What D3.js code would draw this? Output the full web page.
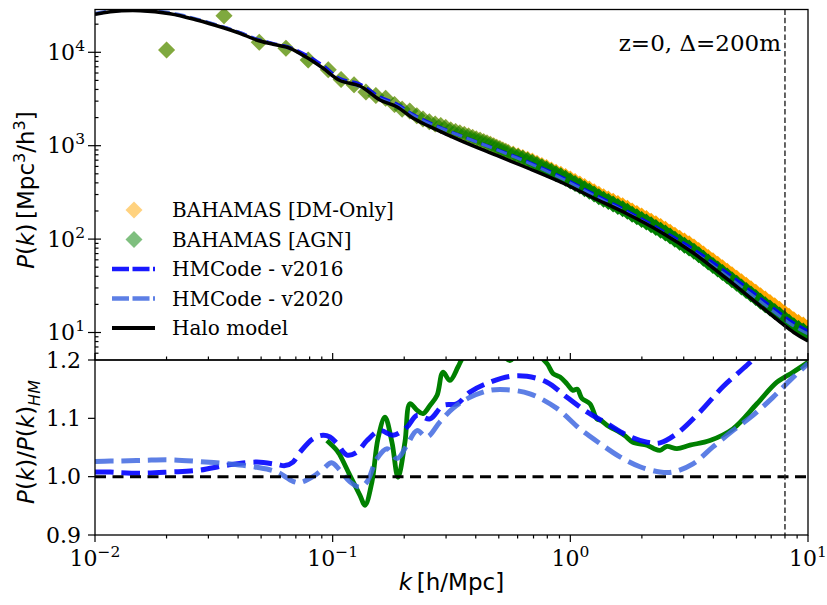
<!DOCTYPE html>
<html>
<head>
<meta charset="utf-8">
<script src="https://cdn.jsdelivr.net/npm/d3@7/dist/d3.min.js"></script>
<style>
  html, body { margin: 0; padding: 0; background: #fff; }
  svg { display: block; }
</style>
</head>
<body>
<svg id="chart" width="827" height="605"></svg>
<script>
// ---------------- data ----------------
// halo-model power spectrum, z = 0
const haloK = [0.0100, 0.0116, 0.0155, 0.0207, 0.0268, 0.0347, 0.0407, 0.0479, 0.0562, 0.0661, 0.0776, 0.0912, 0.1073, 0.1303, 0.1581, 0.1860, 0.2183, 0.2566, 0.3533, 0.4904, 0.6761, 0.9287, 1.239, 1.722, 2.382, 3.296, 4.566, 6.300, 8.720, 10.0];
const haloP = [25500, 27200, 27900, 25900, 22200, 18300, 15960, 13550, 12180, 11040, 8840, 6740, 4990, 4357, 3085, 2616, 1965, 1598, 1104, 785.5, 563, 398.7, 278.9, 188.0, 120.6, 71.0, 37.4, 19.22, 10.0, 8.11];
// HMCode predictions on the same k grid
const hm2016P = [25700, 27420, 28070, 26110, 22440, 18650, 16310, 13890, 12450, 11290, 9330, 7220, 5250, 4570, 3330, 2800, 2160, 1756, 1253, 915.1, 659.3, 455.3, 308.2, 201.3, 127.6, 78.1, 43.8, 23.35, 12.65, 10.42];
const hm2020P = [26160, 27930, 28680, 26650, 22780, 18700, 16260, 13770, 12300, 10970, 8790, 6830, 5045, 4279, 3196, 2700, 2103, 1713, 1245, 901.8, 642.9, 440.2, 297.6, 193.3, 121.6, 72.6, 40.1, 21.57, 11.70, 9.68];

// BAHAMAS measured spectra
const simK = [0.0200, 0.0349, 0.0491, 0.0636, 0.0789, 0.0958, 0.1085, 0.123, 0.138, 0.152, 0.167, 0.182, 0.196, 0.211, 0.226, 0.240, 0.255, 0.270, 0.285, 0.299, 0.314, 0.329, 0.343, 0.358, 0.373, 0.388, 0.402, 0.417, 0.432, 0.446, 0.461, 0.476, 0.490, 0.505, 0.520, 0.535, 0.549,
  0.575, 0.603, 0.631, 0.661, 0.692, 0.724, 0.759, 0.794, 0.832, 0.871, 0.912, 0.955, 1.000, 1.047, 1.096, 1.148, 1.202, 1.259, 1.318, 1.380, 1.445, 1.514, 1.585, 1.660, 1.738, 1.820, 1.905, 1.995, 2.089, 2.188, 2.291, 2.399, 2.512, 2.630, 2.754, 2.884, 3.020, 3.162, 3.311, 3.467, 3.631, 3.802, 3.981, 4.169, 4.365, 4.571, 4.786, 5.012, 5.248, 5.495, 5.754, 6.026, 6.310, 6.607, 6.918, 7.244, 7.586, 7.943, 8.318, 8.710, 9.120, 9.550, 10.00];
const dmoP = [10590, 24640, 12790, 11040, 8280, 6500, 5120, 4485, 3762, 3439, 3214, 2767, 2466, 2351, 2097, 1931, 1808, 1711, 1650, 1574, 1480, 1421, 1372, 1323, 1277, 1232, 1190, 1152, 1112, 1077, 1041, 1004, 970, 938, 907, 878.5, 853,
  815, 782, 749, 717, 685.5, 649.5, 615, 583.4, 550.5, 521.2, 495.1, 467.1, 439.1, 413.0, 388.6, 366.0, 344.8, 321.8, 302.1, 284.9, 269.1, 254.2, 240.4, 226.9, 213.8, 199.8, 187.6, 176.5, 165.9, 155.5, 145.8, 136.8, 127.7, 118.7, 110.2, 102.4, 95.5, 88.9, 82.5, 75.6, 69.4, 63.7, 58.5, 53.7, 49.4, 45.4, 41.5, 38.0, 34.9, 32.1, 29.4, 27.0, 24.8, 22.8, 20.96, 19.31, 17.73, 16.27, 14.91, 13.66, 12.80, 12.00, 11.24];
const agnP = [10590, 24640, 12790, 11040, 8280, 6500, 5120, 4485, 3762, 3439, 3212, 2765, 2463, 2348, 2094, 1928, 1805, 1708, 1647, 1570, 1475, 1416, 1366, 1316, 1270, 1224, 1182, 1143, 1102, 1066, 1030, 992, 957, 925, 894, 865, 839,
  801, 768, 733, 700, 667, 631, 596, 564, 531, 502, 475.6, 447.3, 419.3, 393.4, 369.2, 346.7, 326.1, 303.5, 284.2, 267.4, 252.0, 237.5, 223.8, 210.8, 198.2, 184.8, 173.1, 162.3, 152.1, 142.4, 133.3, 124.7, 116.2, 107.8, 99.8, 92.6, 86.1, 80.1, 74.2, 67.9, 62.2, 56.9, 52.1, 47.8, 43.8, 40.2, 36.7, 33.6, 30.7, 28.2, 25.8, 23.65, 21.67, 19.88, 18.26, 16.80, 15.40, 14.11, 12.91, 11.82, 11.06, 10.36, 9.70];
// spacing of the simulation's linear k bins (h/Mpc)
const simBinWidth = 0.0147;

// ratios to the halo model
const agnRatioK = [0.0946, 0.1042, 0.1073, 0.1183, 0.1303, 0.1368, 0.1463, 0.1551, 0.1660, 0.1776, 0.1883, 0.2014, 0.2114, 0.2263, 0.2399, 0.2566, 0.2747, 0.2911, 0.3114, 0.3367, 0.3533, 0.380, 0.420, 0.460, 0.500, 0.530, 0.557, 0.600, 0.690, 0.7975, 0.845, 0.904, 0.968, 1.025, 1.070, 1.119, 1.209, 1.294, 1.350, 1.426, 1.617, 1.700, 1.834, 2.101, 2.250, 2.382, 2.549, 2.809, 3.186, 3.867, 4.833, 6.095, 7.399, 8.641, 10.0];
const agnRatio = [1.062, 1.045, 1.037, 1.002, 0.968, 0.951, 0.991, 1.065, 1.102, 1.059, 0.999, 1.059, 1.125, 1.114, 1.108, 1.122, 1.139, 1.179, 1.165, 1.188, 1.205, 1.220, 1.230, 1.230, 1.215, 1.205, 1.199, 1.210, 1.215, 1.194, 1.177, 1.171, 1.159, 1.148, 1.150, 1.134, 1.125, 1.099, 1.096, 1.088, 1.076, 1.070, 1.059, 1.054, 1.048, 1.045, 1.052, 1.048, 1.054, 1.062, 1.082, 1.125, 1.162, 1.179, 1.196];
const ratio2016K = [0.0100, 0.0116, 0.0127, 0.0159, 0.0207, 0.0274, 0.0363, 0.0480, 0.0583, 0.0630, 0.0681, 0.0729, 0.0826, 0.0910, 0.0974, 0.1042, 0.1148, 0.1265, 0.1394, 0.1581, 0.1794, 0.2054, 0.2263, 0.2566, 0.2911, 0.3334, 0.3781, 0.4588, 0.5570, 0.6567, 0.7975, 0.9676, 1.1745, 1.426, 1.730, 2.101, 2.382, 2.809, 3.510, 4.385, 5.534, 6.400, 10.0];
const ratio2016 = [1.008, 1.008, 1.007, 1.006, 1.008, 1.011, 1.020, 1.025, 1.021, 1.019, 1.025, 1.042, 1.065, 1.071, 1.068, 1.057, 1.037, 1.042, 1.062, 1.079, 1.071, 1.085, 1.105, 1.099, 1.122, 1.125, 1.145, 1.162, 1.172, 1.172, 1.162, 1.136, 1.111, 1.091, 1.071, 1.059, 1.058, 1.074, 1.111, 1.154, 1.191, 1.215, 1.285];
const ratio2020K = [0.0100, 0.0116, 0.0127, 0.0159, 0.0207, 0.0274, 0.0363, 0.0480, 0.0583, 0.0681, 0.0729, 0.0826, 0.0910, 0.0990, 0.1073, 0.1183, 0.1303, 0.1394, 0.1536, 0.1693, 0.1865, 0.2054, 0.2263, 0.2493, 0.2828, 0.3207, 0.3781, 0.4588, 0.5411, 0.6761, 0.8782, 1.0975, 1.332, 1.617, 1.963, 2.382, 2.702, 3.280, 3.981, 4.833, 5.865, 7.116, 8.394, 10.0];
const ratio2020 = [1.026, 1.027, 1.027, 1.028, 1.029, 1.026, 1.022, 1.016, 1.008, 0.992, 0.990, 1.000, 1.013, 1.024, 1.011, 0.991, 0.982, 0.991, 1.031, 1.048, 1.031, 1.054, 1.079, 1.068, 1.094, 1.117, 1.136, 1.148, 1.149, 1.142, 1.117, 1.082, 1.057, 1.034, 1.017, 1.008, 1.008, 1.022, 1.051, 1.079, 1.105, 1.136, 1.165, 1.194];

const kLimit = 8.0;                 // vertical marker
const xTickVals = [0.01, 0.1, 1, 10];
const xTickExp = ["\u22122", "\u22121", "0", "1"];
const yTopTickVals = [10, 100, 1000, 10000];
const yTopTickExp = ["1", "2", "3", "4"];
const yBotTickVals = [0.9, 1.0, 1.1, 1.2];
const yBotTickLabels = ["0.9", "1.0", "1.1", "1.2"];
const legendLabels = ["BAHAMAS [DM-Only]", "BAHAMAS [AGN]", "HMCode - v2016", "HMCode - v2020", "Halo model"];

// ---------------- layout ----------------
const L = 95, R = 808, T = 9.5, MID = 360, B = 535;
const SERIF = '"DejaVu Serif", serif';
const SANS = '"DejaVu Sans", sans-serif';
const TICK_FS = 22, SUP_FS = 15.5, LABEL_FS = 23;

const x = d3.scaleLog().domain([0.01, 10]).range([L, R]);
const yTop = d3.scaleLog().domain([5.077, 28720]).range([MID, T]);
const yBot = d3.scaleLinear().domain([0.9, 1.2]).range([B, MID]);

const svg = d3.select("#chart");
svg.append("rect").attr("width", 827).attr("height", 605).attr("fill", "#fff");

const defs = svg.append("defs");
defs.append("clipPath").attr("id", "clip-top").append("rect")
  .attr("x", L).attr("y", T).attr("width", R - L).attr("height", MID - T);
defs.append("clipPath").attr("id", "clip-bot").append("rect")
  .attr("x", L).attr("y", MID).attr("width", R - L).attr("height", B - MID);

const zip = (a, b) => a.map((v, i) => [v, b[i]]);
const diamond = r => `M0,${-r}L${r},0L0,${r}L${-r},0Z`;

// Each plotted diamond stands for every simulation bin that falls within its
// pixel spacing; translucent markers stacked that densely read as opaque.
function markerOpacity(i) {
  const xi = x(simK[i]);
  const prev = i > 0 ? xi - x(simK[i - 1]) : Infinity;
  const next = i < simK.length - 1 ? x(simK[i + 1]) - xi : Infinity;
  const spacing = Math.min(prev, next);
  const binPx = x(simK[i] + simBinWidth) - xi;
  const n = Math.max(1, spacing / binPx);
  return 1 - Math.pow(0.5, n);
}

// ---------------- upper panel ----------------
const gTop = svg.append("g").attr("clip-path", "url(#clip-top)");

function drawMarkers(vals, color) {
  gTop.append("g").selectAll("path")
    .data(zip(simK, vals))
    .join("path")
    .attr("d", diamond(8.5))
    .attr("transform", d => `translate(${x(d[0])},${yTop(d[1])})`)
    .attr("fill", color)
    .attr("fill-opacity", (d, i) => markerOpacity(i));
}
drawMarkers(dmoP, "orange");
drawMarkers(agnP, "green");

const lineTop = d3.line().x(d => x(d[0])).y(d => yTop(d[1])).curve(d3.curveCatmullRom.alpha(0.5));
gTop.append("path").datum(zip(haloK, hm2016P)).attr("d", lineTop)
  .attr("fill", "none").attr("stroke", "blue").attr("stroke-opacity", 0.9)
  .attr("stroke-width", 3).attr("stroke-dasharray", "11,5");
gTop.append("path").datum(zip(haloK, hm2020P)).attr("d", lineTop)
  .attr("fill", "none").attr("stroke", "royalblue").attr("stroke-opacity", 0.85)
  .attr("stroke-width", 3).attr("stroke-dasharray", "11,5");
gTop.append("path").datum(zip(haloK, haloP)).attr("d", lineTop)
  .attr("fill", "none").attr("stroke", "black").attr("stroke-width", 3.5);

// ---------------- lower panel ----------------
const gBot = svg.append("g").attr("clip-path", "url(#clip-bot)");
const lineBot = d3.line().x(d => x(d[0])).y(d => yBot(d[1])).curve(d3.curveCatmullRom.alpha(0.5));

gBot.append("path").datum(zip(agnRatioK, agnRatio)).attr("d", lineBot)
  .attr("fill", "none").attr("stroke", "green").attr("stroke-width", 4.8)
  .attr("stroke-linejoin", "round");
gBot.append("path").datum(zip(ratio2016K, ratio2016)).attr("d", lineBot)
  .attr("fill", "none").attr("stroke", "blue").attr("stroke-opacity", 0.9)
  .attr("stroke-width", 5).attr("stroke-dasharray", "18.5,8");
gBot.append("path").datum(zip(ratio2020K, ratio2020)).attr("d", lineBot)
  .attr("fill", "none").attr("stroke", "royalblue").attr("stroke-opacity", 0.85)
  .attr("stroke-width", 5).attr("stroke-dasharray", "18.5,8");
gBot.append("line")
  .attr("x1", L).attr("x2", R).attr("y1", yBot(1)).attr("y2", yBot(1))
  .attr("stroke", "black").attr("stroke-width", 3).attr("stroke-dasharray", "11,6.5");

// vertical limit marker across both panels
svg.append("line")
  .attr("x1", x(kLimit)).attr("x2", x(kLimit)).attr("y1", T).attr("y2", B)
  .attr("stroke", "#222").attr("stroke-width", 1.4).attr("stroke-dasharray", "5.5,2.8");

// ---------------- frames ----------------
const frame = svg.append("g").attr("fill", "none").attr("stroke", "black").attr("stroke-width", 1.3);
frame.append("rect").attr("x", L).attr("y", T).attr("width", R - L).attr("height", MID - T);
frame.append("rect").attr("x", L).attr("y", MID).attr("width", R - L).attr("height", B - MID);

// ---------------- ticks ----------------
function logMinor(lo, hi) {
  const out = [];
  for (let e = Math.floor(Math.log10(lo)); e <= Math.ceil(Math.log10(hi)); e++)
    for (let m = 2; m <= 9; m++) {
      const v = m * Math.pow(10, e);
      if (v > lo && v < hi) out.push(v);
    }
  return out;
}
const ticks = svg.append("g").attr("stroke", "black").attr("stroke-width", 1.2);
const xMinor = logMinor(0.01, 10);

// upper panel: x ticks pointing up from the shared edge
xTickVals.forEach(v => ticks.append("line").attr("x1", x(v)).attr("x2", x(v)).attr("y1", MID).attr("y2", MID - 7));
xMinor.forEach(v => ticks.append("line").attr("x1", x(v)).attr("x2", x(v)).attr("y1", MID).attr("y2", MID - 3.5));
// upper panel: y ticks
yTopTickVals.forEach(v => ticks.append("line").attr("x1", L - 7).attr("x2", L + 6).attr("y1", yTop(v)).attr("y2", yTop(v)));
logMinor(5.077, 28720).forEach(v => ticks.append("line").attr("x1", L).attr("x2", L + 3.5).attr("y1", yTop(v)).attr("y2", yTop(v)));
// lower panel: x ticks outward
xTickVals.forEach(v => ticks.append("line").attr("x1", x(v)).attr("x2", x(v)).attr("y1", B).attr("y2", B + 7));
xMinor.forEach(v => ticks.append("line").attr("x1", x(v)).attr("x2", x(v)).attr("y1", B).attr("y2", B + 3.5));
// lower panel: y ticks outward
yBotTickVals.forEach(v => ticks.append("line").attr("x1", L - 7).attr("x2", L).attr("y1", yBot(v)).attr("y2", yBot(v)));

// ---------------- tick labels ----------------
const labels = svg.append("g").attr("fill", "black").style("font-family", SERIF);

yTopTickVals.forEach((v, i) => {
  const t = labels.append("text").attr("x", L - 10).attr("y", yTop(v) + 7.5)
    .attr("text-anchor", "end").style("font-size", TICK_FS + "px");
  t.append("tspan").text("10");
  t.append("tspan").attr("dy", -9).style("font-size", SUP_FS + "px").text(yTopTickExp[i]);
});
yBotTickVals.forEach((v, i) => {
  labels.append("text").attr("x", L - 14).attr("y", yBot(v) + 7.5)
    .attr("text-anchor", "end").style("font-size", TICK_FS + "px").text(yBotTickLabels[i]);
});
xTickVals.forEach((v, i) => {
  const t = labels.append("text").attr("x", x(v)).attr("y", 566)
    .attr("text-anchor", "middle").style("font-size", TICK_FS + "px");
  t.append("tspan").text("10");
  t.append("tspan").attr("dy", -9).style("font-size", SUP_FS + "px").text(xTickExp[i]);
});

// ---------------- axis titles ----------------
const xt = svg.append("text").attr("x", (L + R) / 2).attr("y", 590)
  .attr("text-anchor", "middle").style("font-family", SANS).style("font-size", LABEL_FS + "px");
xt.append("tspan").style("font-style", "italic").text("k");
xt.append("tspan").text("\u2009[h/Mpc]");

const yt1 = svg.append("text").attr("transform", "translate(34,190) rotate(-90)")
  .attr("text-anchor", "middle").style("font-family", SANS).style("font-size", LABEL_FS + "px");
yt1.append("tspan").style("font-style", "italic").text("P");
yt1.append("tspan").text("(");
yt1.append("tspan").style("font-style", "italic").text("k");
yt1.append("tspan").text(")\u2009[Mpc");
yt1.append("tspan").attr("dy", -9).style("font-size", "16px").text("3");
yt1.append("tspan").attr("dy", 9).text("/h");
yt1.append("tspan").attr("dy", -9).style("font-size", "16px").text("3");
yt1.append("tspan").attr("dy", 9).text("]");

const yt2 = svg.append("text").attr("transform", "translate(34,442) rotate(-90)")
  .attr("text-anchor", "middle").style("font-family", SANS).style("font-size", LABEL_FS + "px");
yt2.append("tspan").style("font-style", "italic").text("P");
yt2.append("tspan").text("(");
yt2.append("tspan").style("font-style", "italic").text("k");
yt2.append("tspan").text(")/");
yt2.append("tspan").style("font-style", "italic").text("P");
yt2.append("tspan").text("(");
yt2.append("tspan").style("font-style", "italic").text("k");
yt2.append("tspan").text(")");
yt2.append("tspan").attr("dy", 6).style("font-size", "16px").style("font-style", "italic").text("HM");

// annotation
svg.append("text").attr("x", 781).attr("y", 51).attr("text-anchor", "end")
  .style("font-family", SERIF).style("font-size", "23px").text("z=0, \u0394=200m");

// ---------------- legend ----------------
const leg = svg.append("g");
const rowY = [210, 239.5, 269, 298.5, 328];
leg.append("path").attr("d", diamond(8.5)).attr("transform", `translate(134,${rowY[0]})`)
  .attr("fill", "orange").attr("fill-opacity", 0.5);
leg.append("path").attr("d", diamond(8.5)).attr("transform", `translate(134,${rowY[1]})`)
  .attr("fill", "green").attr("fill-opacity", 0.5);
leg.append("line").attr("x1", 112).attr("x2", 155).attr("y1", rowY[2]).attr("y2", rowY[2])
  .attr("stroke", "blue").attr("stroke-opacity", 0.9).attr("stroke-width", 4.5).attr("stroke-dasharray", "17,3.5");
leg.append("line").attr("x1", 112).attr("x2", 155).attr("y1", rowY[3]).attr("y2", rowY[3])
  .attr("stroke", "royalblue").attr("stroke-opacity", 0.85).attr("stroke-width", 4.5).attr("stroke-dasharray", "17,3.5");
leg.append("line").attr("x1", 112).attr("x2", 155).attr("y1", rowY[4]).attr("y2", rowY[4])
  .attr("stroke", "black").attr("stroke-width", 4);
legendLabels.forEach((s, i) => {
  leg.append("text").attr("x", 172).attr("y", rowY[i] + 7)
    .style("font-family", SERIF).style("font-size", "20px").text(s);
});
</script>
</body>
</html>
